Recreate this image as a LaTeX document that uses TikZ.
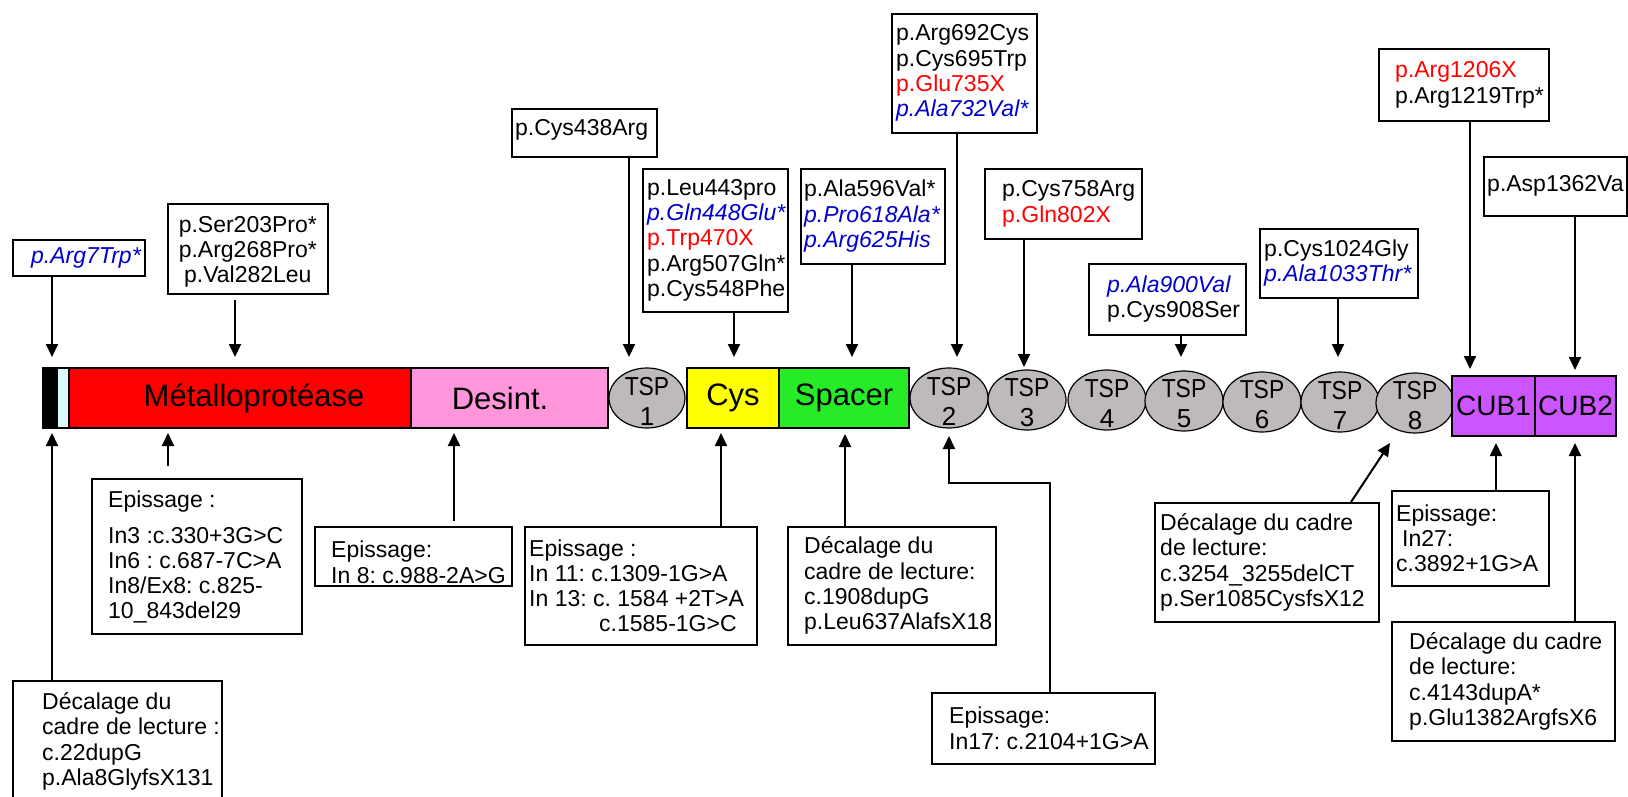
\documentclass[tikz,border=0pt]{standalone}
\usepackage{fontspec}
\setmainfont{Liberation Sans}
\usetikzlibrary{arrows.meta,shapes.geometric,calc}
\frenchspacing

\definecolor{mutred}{RGB}{255,0,0}
\definecolor{mutblue}{RGB}{0,0,204}
\definecolor{dsig}{RGB}{0,0,0}
\definecolor{dpro}{RGB}{220,250,250}
\definecolor{dmetal}{RGB}{255,0,0}
\definecolor{dpink}{RGB}{255,150,220}
\definecolor{dyellow}{RGB}{255,255,0}
\definecolor{dgreen}{RGB}{40,235,40}
\definecolor{dpurple}{RGB}{204,85,255}
\definecolor{tspgrey}{RGB}{190,185,186}

\newcommand{\mr}[1]{\textcolor{mutred}{#1}}
\newcommand{\mbl}[1]{\textcolor{mutblue}{\itshape #1}}

\begin{document}
\begin{tikzpicture}[x=1pt,y=-1pt,
  frame/.style={draw, line width=1.6pt, anchor=north west, inner sep=0pt, fill=white},
  txt/.style={anchor=west, align=left, inner sep=0pt, font=\fontsize{23}{25.3}\selectfont},
  dom/.style={draw, line width=1.2pt, inner sep=0pt, minimum height=60pt, font=\fontsize{31}{34}\selectfont},
  cub/.style={dom, fill=dpurple, font=\fontsize{28}{30}\selectfont},
  tsp/.style={ellipse, draw, line width=1.2pt, fill=tspgrey, minimum width=78pt, minimum height=60pt, inner sep=0pt},
  tsplbl/.style={align=center, inner sep=0pt, font=\fontsize{26}{30}\selectfont},
  arr/.style={line width=2pt, -{Triangle[width=12pt,length=13pt]}},
]
\useasboundingbox (0,0) rectangle (1628,797);

% ---------- protein domains ----------
\node[dom, fill=dsig, minimum width=14pt] (sig) at (50,398) {};
\node[dom, fill=dpro, minimum width=12pt] (pro) at (63,398) {};
\node[dom, fill=dmetal, minimum width=342pt] (metal) at (240,398) {\hspace*{28pt}Métalloprotéase};
\node[dom, fill=dpink, minimum width=197pt] (dis) at (509.5,398) {Desint.\hspace*{19pt}};
\node[tsp, minimum width=76pt] (tsp1) at (647,398) {};
\node[dom, fill=dyellow, minimum width=92pt] (cys) at (733,398) {Cys};
\node[dom, fill=dgreen, minimum width=130pt] (spacer) at (844,398) {Spacer};
\node[tsp] (tsp2) at (949,398) {};
\node[tsp] (tsp3) at (1027,400) {};
\node[tsp] (tsp4) at (1107,400) {};
\node[tsp] (tsp5) at (1184,401) {};
\node[tsp] (tsp6) at (1262,402) {};
\node[tsp] (tsp7) at (1340,402) {};
\node[tsp] (tsp8) at (1415,403) {};
\node[cub, minimum width=83pt] (cub1) at (1493.5,406) {CUB1};
\node[cub, minimum width=81pt] (cub2) at (1575.5,406) {CUB2};

\foreach \i in {1,...,8}
  \node[tsplbl, yshift=-3pt] (tsp\i l) at (tsp\i) {\scalebox{0.88}[1]{TSP}\\\i};

% ---------- missense / nonsense mutations (above) ----------
\node[frame, minimum width=132pt, minimum height=36pt] (t1) at (12,239) {};
\node[txt] (t1t) at ([xshift=19pt]t1.west) {\mbl{p.Arg7Trp*}};

\node[frame, minimum width=160pt, minimum height=90pt] (t2) at (167,203) {};
\node[txt, anchor=center, align=center] (t2t) at ([yshift=-3pt]t2.center) {p.Ser203Pro*\\p.Arg268Pro*\\p.Val282Leu};

\node[frame, minimum width=145pt, minimum height=48pt] (t3) at (511,108) {};
\node[txt] (t3t) at ([xshift=4pt,yshift=3pt]t3.west) {p.Cys438Arg};

\node[frame, minimum width=145pt, minimum height=143pt] (t4) at (642,168) {};
\node[txt] (t4t) at ([xshift=5pt]t4.west) {p.Leu443pro\\\mbl{p.Gln448Glu*}\\\mr{p.Trp470X}\\p.Arg507Gln*\\p.Cys548Phe};

\node[frame, minimum width=144pt, minimum height=95pt] (t5) at (800,168) {};
\node[txt] (t5t) at ([xshift=4pt]t5.west) {p.Ala596Val*\\\mbl{p.Pro618Ala*}\\\mbl{p.Arg625His}};

\node[frame, minimum width=145pt, minimum height=119pt] (t6) at (891,13) {};
\node[txt] (t6t) at ([xshift=5pt]t6.west) {p.Arg692Cys\\p.Cys695Trp\\\mr{p.Glu735X}\\\mbl{p.Ala732Val*}};

\node[frame, minimum width=157pt, minimum height=70pt] (t7) at (984,168) {};
\node[txt] (t7t) at ([xshift=18pt]t7.west) {p.Cys758Arg\\\mr{p.Gln802X}};

\node[frame, minimum width=157pt, minimum height=71pt] (t8) at (1088,263) {};
\node[txt] (t8t) at ([xshift=19pt]t8.west) {\mbl{p.Ala900Val}\\p.Cys908Ser};

\node[frame, minimum width=158pt, minimum height=69pt] (t9) at (1259,228) {};
\node[txt] (t9t) at ([xshift=5pt]t9.west) {p.Cys1024Gly\\\mbl{p.Ala1033Thr*}};

\node[frame, minimum width=170pt, minimum height=72pt] (t10) at (1378,48) {};
\node[txt] (t10t) at ([xshift=17pt]t10.west) {\mr{p.Arg1206X}\\p.Arg1219Trp*};

\node[frame, minimum width=143pt, minimum height=59pt] (t11) at (1483,156) {};
\node[txt] (t11t) at ([xshift=4pt]t11.west) {p.Asp1362Va};

% ---------- splicing / frameshift mutations (below) ----------
\node[frame, minimum width=209pt, minimum height=121pt] (b1) at (12,680) {};
\node[txt] (b1t) at ([xshift=30pt]b1.west) {Décalage du\\cadre de lecture :\\c.22dupG\\p.Ala8GlyfsX131};

\node[frame, minimum width=210pt, minimum height=155pt] (b2) at (91,478) {};
\node[txt] (b2t) at ([xshift=17pt,yshift=-1pt]b2.west) {Epissage :\\[10pt]In3 :c.330+3G>C\\In6 : c.687-7C>A\\In8/Ex8: c.825-\\10\_843del29};

\node[frame, minimum width=197pt, minimum height=59pt] (b3) at (314,526) {};
\node[txt] (b3t) at ([xshift=17pt,yshift=-6pt]b3.west) {Epissage:\\In 8: c.988-2A>G};

\node[frame, minimum width=232pt, minimum height=118pt] (b4) at (524,526) {};
\node[txt] (b4t) at ([xshift=5pt]b4.west) {Epissage :\\In 11: c.1309-1G>A\\In 13: c. 1584 +2T>A\\\hspace*{70pt}c.1585-1G>C};

\node[frame, minimum width=208pt, minimum height=118pt] (b5) at (787,526) {};
\node[txt] (b5t) at ([xshift=17pt]b5.west) {Décalage du\\cadre de lecture:\\c.1908dupG\\p.Leu637AlafsX18};

\node[frame, minimum width=223pt, minimum height=71pt] (b6) at (931,692) {};
\node[txt] (b6t) at ([xshift=18pt]b6.west) {Epissage:\\In17: c.2104+1G>A};

\node[frame, minimum width=224pt, minimum height=119pt] (b7) at (1154,502) {};
\node[txt] (b7t) at ([xshift=6pt]b7.west) {Décalage du cadre\\de lecture:\\c.3254\_3255delCT\\p.Ser1085CysfsX12};

\node[frame, minimum width=157pt, minimum height=95pt] (b8) at (1391,490) {};
\node[txt] (b8t) at ([xshift=5pt]b8.west) {Epissage:\\\hspace*{6pt}In27:\\c.3892+1G>A};

\node[frame, minimum width=223pt, minimum height=119pt] (b9) at (1391,621) {};
\node[txt] (b9t) at ([xshift=18pt]b9.west) {Décalage du cadre\\de lecture:\\c.4143dupA*\\p.Glu1382ArgfsX6};

% ---------- arrow tips on the protein ----------
\coordinate (a1) at (52,357);
\coordinate (a2) at (235,357);
\coordinate (a3) at (629,357);
\coordinate (a4) at (734,357);
\coordinate (a5) at (852,357);
\coordinate (a6) at (957,357);
\coordinate (a7) at (1024,367);
\coordinate (a8) at (1181,357);
\coordinate (a9) at (1338,357);
\coordinate (a10) at (1470,369);
\coordinate (a11) at (1575,370);

\coordinate (c1) at (52,433);
\coordinate (c2) at (168,433);
\coordinate (c3) at (454,433);
\coordinate (c4) at (721,433);
\coordinate (c5) at (845,434);
\coordinate (c6) at (949,436);
\coordinate (e6) at (1050,483);
\coordinate (c7) at (1390,443);
\coordinate (s7) at ([xshift=197pt]b7.north west);
\coordinate (c8) at (1496,443);
\coordinate (c9) at (1575,443);

% ---------- connectors ----------
\draw[arr] (t1.south -| a1) -- (a1);
\draw[arr, shorten <=5pt] (t2.south -| a2) -- (a2);
\draw[arr] (t3.south -| a3) -- (a3);
\draw[arr] (t4.south -| a4) -- (a4);
\draw[arr] (t5.south -| a5) -- (a5);
\draw[arr] (t6.south -| a6) -- (a6);
\draw[arr] (t7.south -| a7) -- (a7);
\draw[arr] (t8.south -| a8) -- (a8);
\draw[arr] (t9.south -| a9) -- (a9);
\draw[arr] (t10.south -| a10) -- (a10);
\draw[arr] (t11.south -| a11) -- (a11);

\draw[arr] (b1.north -| c1) -- (c1);
\draw[arr, shorten <=12pt] (b2.north -| c2) -- (c2);
\draw[arr, shorten <=5pt] (b3.north -| c3) -- (c3);
\draw[arr] (b4.north -| c4) -- (c4);
\draw[arr] (b5.north -| c5) -- (c5);
\draw[arr] (b6.north -| e6) -- (e6) -| (c6);
\draw[arr] (s7) -- (c7);
\draw[arr] (b8.north -| c8) -- (c8);
\draw[arr] (b9.north -| c9) -- (c9);
\end{tikzpicture}
\end{document}
